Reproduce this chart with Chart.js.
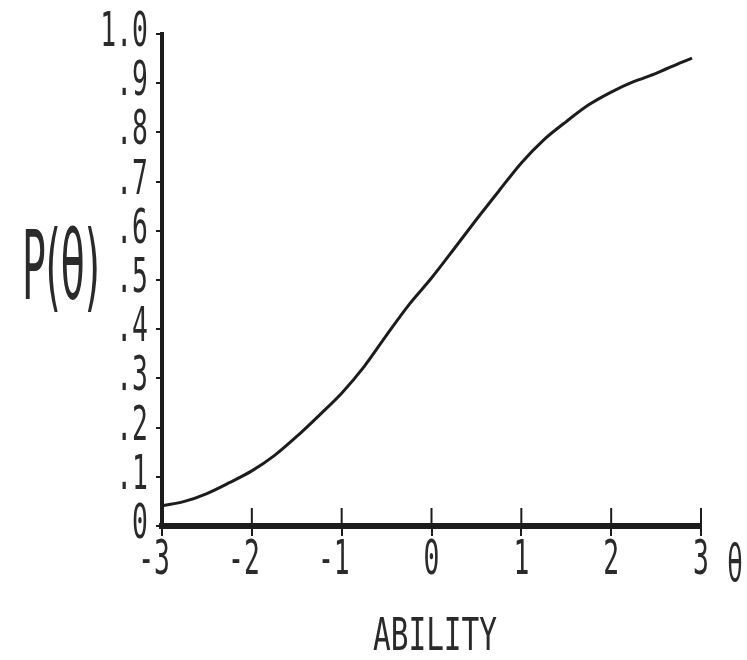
<!DOCTYPE html>
<html>
<head>
<meta charset="utf-8">
<script src="https://cdn.jsdelivr.net/npm/chart.js@4/dist/chart.umd.min.js"></script>
<style>
  html, body { margin: 0; padding: 0; background: #fff; }
  #wrap { width: 747px; height: 660px; }
</style>
</head>
<body>
<div id="wrap"><canvas id="c" width="747" height="660"></canvas></div>
<script>
// ---- data ----
const abilityValues = [-3, -2.75, -2.5, -2.25, -2, -1.75, -1.5, -1.25, -1, -0.75, -0.5, -0.25, 0,
                       0.25, 0.5, 0.75, 1, 1.25, 1.5, 1.75, 2, 2.25, 2.5, 2.75, 2.9];
const probValues = [0.041, 0.050, 0.066, 0.088, 0.112, 0.143, 0.182, 0.225, 0.270, 0.324, 0.388, 0.450, 0.504,
                    0.563, 0.623, 0.681, 0.738, 0.785, 0.822, 0.856, 0.882, 0.903, 0.920, 0.940, 0.951];
const xTickValues = [-3, -2, -1, 0, 1, 2, 3];
const xTickLabels = ['-3', '-2', '-1', '0', '1', '2', '3'];
const yTickValues = [0, 0.1, 0.2, 0.3, 0.4, 0.5, 0.6, 0.7, 0.8, 0.9, 1.0];
const yTickLabels = ['0', '.1', '.2', '.3', '.4', '.5', '.6', '.7', '.8', '.9', '1.0'];
const yAxisTitle = 'P(θ)';
const xAxisSymbol = 'θ';
const xAxisTitle = 'ABILITY';

const INK = '#1c1c1c';
const TEXT_INK = '#2a2a2a';

// draw text squeezed horizontally (tall, narrow plotter-style lettering)
function squeezedText(ctx, text, x, y, font, sx, align, baseline) {
  ctx.save();
  ctx.font = font;
  ctx.textAlign = align;
  ctx.textBaseline = baseline;
  ctx.translate(x, y);
  ctx.scale(sx, 1);
  ctx.fillText(text, 0, 0);
  ctx.restore();
}
function fitText(ctx, text, cx, baselineY, font, targetW, align) {
  ctx.save();
  ctx.font = font;
  const w = ctx.measureText(text).width;
  ctx.restore();
  squeezedText(ctx, text, cx, baselineY, font, targetW / w, align || 'center', 'alphabetic');
}

const labelsPlugin = {
  id: 'plotterLabels',
  afterDraw(chart) {
    const ctx = chart.ctx;
    const xs = chart.scales.x, ys = chart.scales.y;
    const area = chart.chartArea;
    ctx.save();
    ctx.fillStyle = TEXT_INK;
    ctx.strokeStyle = INK;
    // upper half of the x tick marks (they cross the axis)
    ctx.lineWidth = 2;
    xTickValues.forEach(v => {
      const px = xs.getPixelForValue(v);
      ctx.beginPath();
      ctx.moveTo(px, area.bottom - 18);
      ctx.lineTo(px, area.bottom);
      ctx.stroke();
    });
    // y tick labels
    const numFont = '48px "DejaVu Sans Mono"';
    yTickValues.forEach((v, i) => {
      const py = ys.getPixelForValue(v);
      squeezedText(ctx, yTickLabels[i], 148, py + 12, numFont, 0.55, 'right', 'alphabetic');
    });
    // x tick labels
    xTickValues.forEach((v, i) => {
      const px = xs.getPixelForValue(v);
      const lab = xTickLabels[i];
      if (lab.startsWith('-')) {
        squeezedText(ctx, lab, px + 8, 574, numFont, 0.55, 'right', 'alphabetic');
      } else {
        squeezedText(ctx, lab, px, 574, numFont, 0.55, 'center', 'alphabetic');
      }
    });
    // axis titles
    fitText(ctx, yAxisTitle, 61, 299, '96px "DejaVu Sans"', 78, 'center');
    fitText(ctx, xAxisSymbol, 735, 581, '52px "DejaVu Sans"', 15, 'center');
    fitText(ctx, xAxisTitle, 435, 650, '44px "DejaVu Sans Mono"', 124, 'center');
    ctx.restore();
  }
};

new Chart(document.getElementById('c'), {
  type: 'scatter',
  data: {
    datasets: [{
      data: abilityValues.map((x, i) => ({ x: x, y: probValues[i] })),
      showLine: true,
      borderColor: INK,
      borderWidth: 3,
      pointRadius: 0,
      tension: 0.3,
      fill: false
    }]
  },
  options: {
    responsive: false,
    animation: false,
    devicePixelRatio: 1,
    layout: { padding: { top: 34, right: 46, left: 0, bottom: 0 } },
    plugins: { legend: { display: false }, tooltip: { enabled: false }, title: { display: false } },
    scales: {
      x: {
        type: 'linear', min: -3, max: 3,
        ticks: { stepSize: 1, display: false },
        grid: { drawOnChartArea: false, drawTicks: true, tickLength: 10, lineWidth: 2, color: INK },
        border: { display: true, color: INK, width: 6 },
        afterFit(s) { s.height = 134; }
      },
      y: {
        type: 'linear', min: 0, max: 1,
        ticks: { stepSize: 0.1, display: false },
        grid: { drawOnChartArea: false, drawTicks: true, tickLength: 6, lineWidth: 2, color: INK },
        border: { display: true, color: INK, width: 4 },
        afterFit(s) { s.width = 162; }
      }
    }
  },
  plugins: [labelsPlugin]
});
</script>
</body>
</html>
